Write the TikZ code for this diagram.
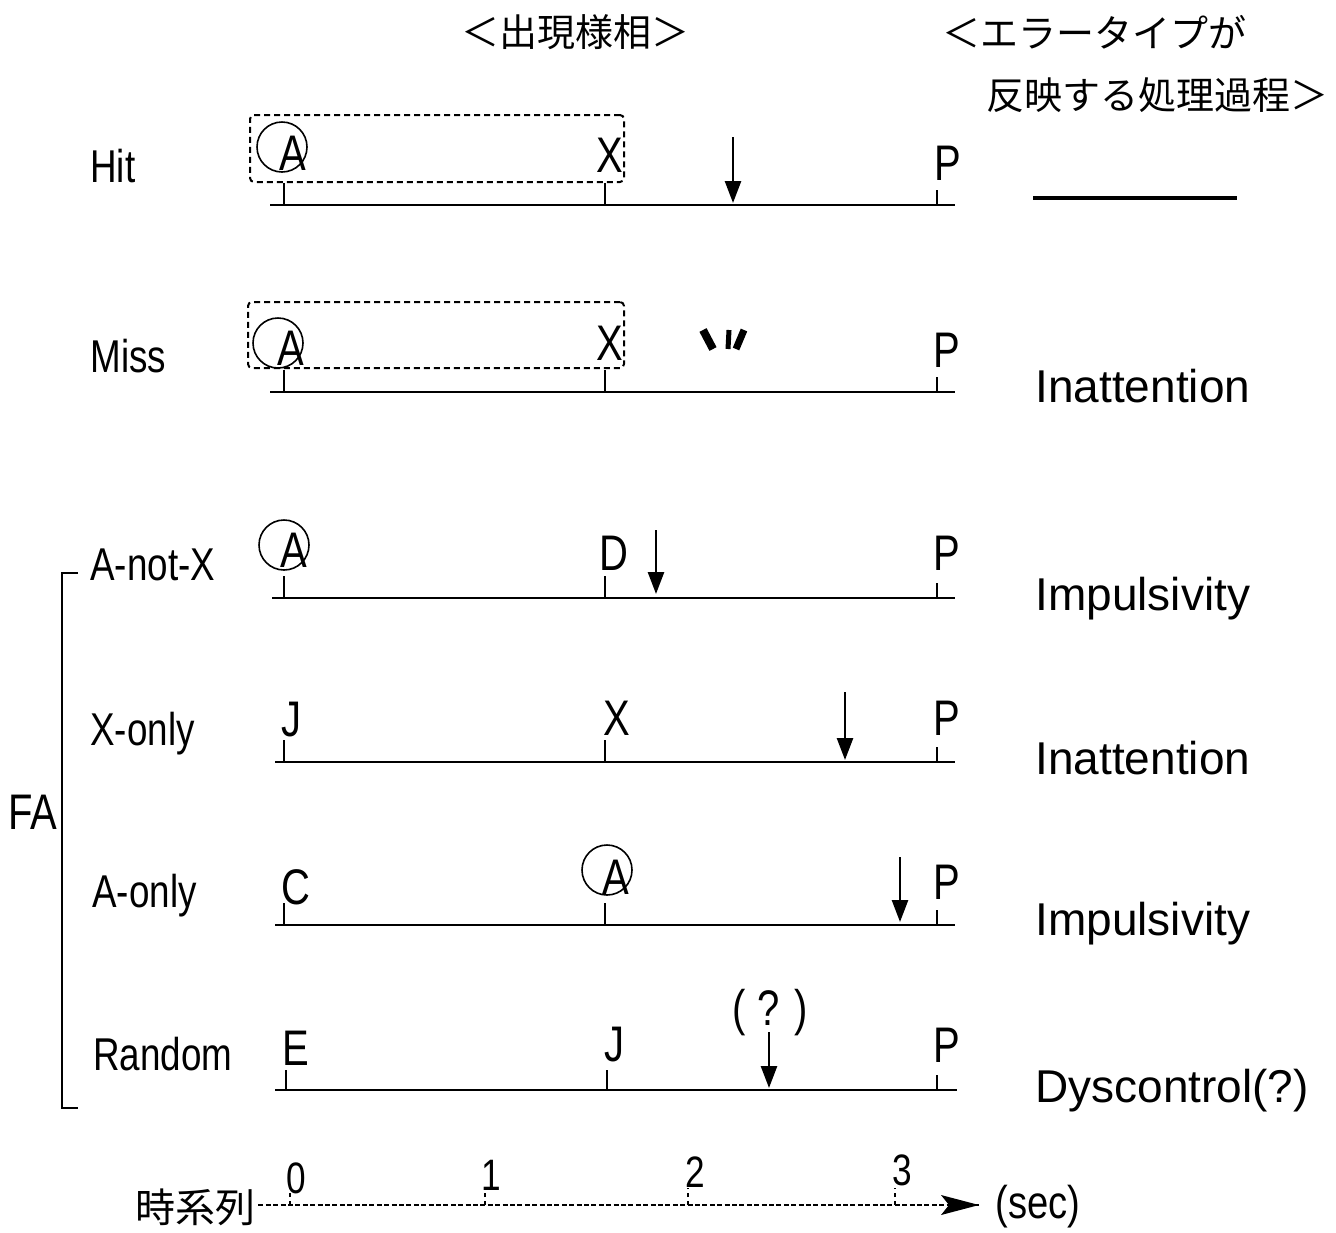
\documentclass[tikz,border=0pt]{standalone}
\usepackage{fontspec}
\usepackage{graphicx}
\setmainfont{Liberation Sans}
\newfontfamily\jpfont{Noto Sans CJK JP}
\usetikzlibrary{arrows.meta}
\newcommand\nrw[1]{\scalebox{0.8}[1]{#1}}
\begin{document}
\begin{tikzpicture}[x=0.5pt,y=-0.5pt,
  every node/.style={inner sep=0pt},
  rowlbl/.style={anchor=base west,font=\fontsize{23}{23}\selectfont},
  ltr/.style={anchor=center,font=\fontsize{25}{25}\selectfont},
  errlbl/.style={anchor=base west,font=\fontsize{23}{23}\selectfont},
  jp/.style={font=\jpfont\fontsize{19}{19}\selectfont},
  tline/.style={line width=1pt},
  tick/.style={line width=1pt},
  resp/.style={line width=1.3pt,-{Triangle[length=11pt,width=8pt]}},
  ring/.style={draw,circle,line width=0.8pt,minimum size=25pt},
  dbox/.style={draw,line width=1pt,dash pattern=on 3pt off 2pt,rounded corners=2pt},
  axis/.style={line width=0.8pt,dash pattern=on 2.5pt off 1.2pt},
]
\useasboundingbox (0,0) rectangle (1336,1232);
\fill[white] (0,0) rectangle (1336,1232);

% headers
\node[jp,anchor=center] (h1) at (575,32) {＜出現様相＞};
\node[jp,anchor=west] (h2) at (942,32) {＜エラータイプが};
\node[jp,anchor=west] (h3) at (986,95) {反映する処理過程＞};

% ---------- Hit ----------
\node[rowlbl] (lHit) at (90,182) {\nrw{Hit}};
\coordinate (hitL) at (270,205); \coordinate (hitR) at (955,205);
\draw[tline] (hitL) -- (hitR);
\draw[tick] (284,205) -- (284,183);
\draw[tick] (605,205) -- (605,183);
\draw[tick] (937,205) -- (937,190);
\node[dbox,minimum width=187pt,minimum height=33.5pt] (boxHit) at (437,148.5) {};
\node[ltr] (hitA) at (293,153) {\nrw{A}};
\node[ring] (hitAc) at (282,147) {};
\node[ltr] (hitX) at (610,155) {\nrw{X}};
\node[ltr] (hitP) at (948,163) {\nrw{P}};
\coordinate (hitAr0) at (733,137); \coordinate (hitAr1) at (733,203);
\draw[resp] (hitAr0) -- (hitAr1);
\coordinate (hitE0) at (1033,198); \coordinate (hitE1) at (1237,198);
\draw[line width=2pt] (hitE0) -- (hitE1);

% ---------- Miss ----------
\node[rowlbl] (lMiss) at (90,372) {\nrw{Miss}};
\coordinate (missL) at (270,392); \coordinate (missR) at (955,392);
\draw[tline] (missL) -- (missR);
\draw[tick] (284,392) -- (284,370);
\draw[tick] (605,392) -- (605,370);
\draw[tick] (937,392) -- (937,377);
\node[dbox,minimum width=188pt,minimum height=33pt] (boxMiss) at (436,335) {};
\node[ltr] (missA) at (291,348) {\nrw{A}};
\node[ring] (missAc) at (278,343) {};
\node[ltr] (missX) at (610,343) {\nrw{X}};
\node[ltr] (missP) at (947,350) {\nrw{P}};
\draw[line width=4pt] (703,330) -- (713,349);
\draw[line width=2.5pt] (729,330) -- (728,349);
\draw[line width=3.5pt] (744,330) -- (736,349);
\node[errlbl] (eMiss) at (1035,402) {Inattention};

% ---------- A-not-X ----------
\node[rowlbl] (lAnX) at (90,580) {\nrw{A-not-X}};
\coordinate (anxL) at (272,598); \coordinate (anxR) at (955,598);
\draw[tline] (anxL) -- (anxR);
\draw[tick] (284,598) -- (284,576);
\draw[tick] (605,598) -- (605,576);
\draw[tick] (937,598) -- (937,583);
\node[ltr] (anxA) at (294,550) {\nrw{A}};
\node[ring] (anxAc) at (284,545) {};
\node[ltr] (anxD) at (614,553) {\nrw{D}};
\node[ltr] (anxP) at (947,553) {\nrw{P}};
\coordinate (anxAr0) at (656,530); \coordinate (anxAr1) at (656,594);
\draw[resp] (anxAr0) -- (anxAr1);
\node[errlbl] (eAnX) at (1035,610) {Impulsivity};

% ---------- X-only ----------
\node[rowlbl] (lXo) at (90,745) {\nrw{X-only}};
\coordinate (xoL) at (275,762); \coordinate (xoR) at (955,762);
\draw[tline] (xoL) -- (xoR);
\draw[tick] (284,762) -- (284,740);
\draw[tick] (605,762) -- (605,740);
\draw[tick] (937,762) -- (937,747);
\node[ltr] (xoJ) at (291,720) {\nrw{J}};
\node[ltr] (xoX) at (617,718) {\nrw{X}};
\node[ltr] (xoP) at (947,718) {\nrw{P}};
\coordinate (xoAr0) at (845,692); \coordinate (xoAr1) at (845,760);
\draw[resp] (xoAr0) -- (xoAr1);
\node[errlbl] (eXo) at (1035,774) {Inattention};

% ---------- A-only ----------
\node[rowlbl] (lAo) at (92,907) {\nrw{A-only}};
\coordinate (aoL) at (275,925); \coordinate (aoR) at (955,925);
\draw[tline] (aoL) -- (aoR);
\draw[tick] (284,925) -- (284,903);
\draw[tick] (605,925) -- (605,903);
\draw[tick] (937,925) -- (937,910);
\node[ltr] (aoC) at (296,887) {\nrw{C}};
\node[ltr] (aoA) at (616,877) {\nrw{A}};
\node[ring] (aoAc) at (607,870) {};
\node[ltr] (aoP) at (947,882) {\nrw{P}};
\coordinate (aoAr0) at (900,857); \coordinate (aoAr1) at (900,922);
\draw[resp] (aoAr0) -- (aoAr1);
\node[errlbl] (eAo) at (1035,935) {Impulsivity};

% ---------- Random ----------
\node[rowlbl] (lRa) at (93,1070) {\nrw{Random}};
\coordinate (raL) at (275,1090); \coordinate (raR) at (957,1090);
\draw[tline] (raL) -- (raR);
\draw[tick] (286,1090) -- (286,1070);
\draw[tick] (607,1090) -- (607,1070);
\draw[tick] (937,1090) -- (937,1075);
\node[ltr] (raE) at (296,1048) {\nrw{E}};
\node[ltr] (raJ) at (614,1045) {\nrw{J}};
\node[ltr] (raP) at (947,1045) {\nrw{P}};
\node[ltr] (raQ) at (770,1013) {\nrw{( ? )}};
\coordinate (raAr0) at (769,1032); \coordinate (raAr1) at (769,1088);
\draw[resp] (raAr0) -- (raAr1);
\node[errlbl] (eRa) at (1035,1102) {Dyscontrol(?)};

% ---------- FA bracket ----------
\coordinate (fa0) at (78,573); \coordinate (fa1) at (62,573);
\coordinate (fa2) at (62,1108); \coordinate (fa3) at (78,1108);
\draw[line width=1pt] (fa0) -- (fa1) -- (fa2) -- (fa3);
\node[ltr] (fa) at (33,812) {\nrw{FA}};

% ---------- time axis ----------
\node[jp,anchor=center,font=\jpfont\fontsize{20}{20}\selectfont] (tl) at (195,1207) {時系列};
\node[ltr,anchor=west,font=\fontsize{23}{23}\selectfont] (sec) at (995,1207) {\scalebox{0.83}[1]{(sec)}};
\draw[axis] (tl.east) ++(3,-2) coordinate (axs) -- ([xshift=-8]sec.west |- axs) coordinate (axe);
\fill (axe) -- ++(-38,-10) -- ++(8,10) -- ++(-8,10) -- cycle;
\foreach \xx/\d/\dx/\dy in {290/0/296/1178, 485/1/491/1175, 688/2/695/1172, 895/3/902/1170}{
  \draw[line width=0.8pt,dash pattern=on 2pt off 2pt] (\xx,1205) -- (\xx,1188);
  \node[ltr,font=\fontsize{22}{22}\selectfont] (d\d) at (\dx,\dy) {\nrw{\d}};
}
\end{tikzpicture}
\end{document}
